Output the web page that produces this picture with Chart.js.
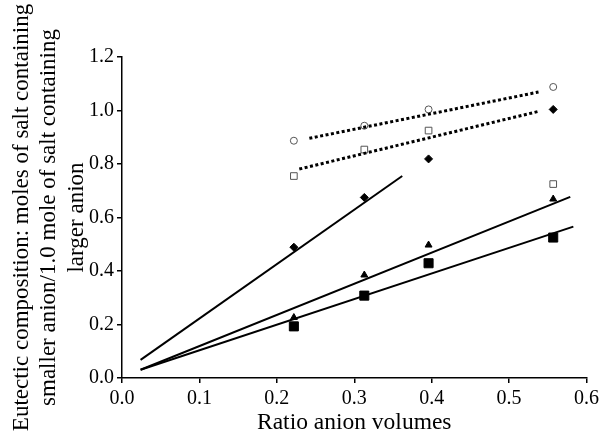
<!DOCTYPE html>
<html>
<head>
<meta charset="utf-8">
<script src="https://cdn.jsdelivr.net/npm/chart.js@4"></script>
<style>
  body { margin: 0; background: #fff; }
  #wrap { width: 603px; height: 447px; }
</style>
</head>
<body>
<div id="wrap"><canvas id="chart"></canvas></div>
<script>
// Data
var ratios = [0.222, 0.313, 0.396, 0.557];
var openCircles = [0.887, 0.943, 1.004, 1.088];
var openSquares = [0.755, 0.854, 0.925, 0.725];
var diamonds = [0.489, 0.675, 0.819, 1.004];
var triangles = [0.226, 0.385, 0.497, 0.669];
var filledSquares = [0.193, 0.308, 0.429, 0.525];

// Trend line end points [x, y]
var circleTrend = [[0.242, 0.896], [0.538, 1.069]];
var squareTrend = [[0.229, 0.781], [0.537, 0.996]];
var diamondTrend = [[0.024, 0.068], [0.362, 0.755]];
var triangleTrend = [[0.024, 0.031], [0.579, 0.677]];
var filledSquareTrend = [[0.024, 0.031], [0.583, 0.566]];

var xTicks = [0, 0.1, 0.2, 0.3, 0.4, 0.5, 0.6];
var yTicks = [0, 0.2, 0.4, 0.6, 0.8, 1.0, 1.2];

var toPoints = function (ys) {
  return ys.map(function (y, i) { return { x: ratios[i], y: y }; });
};
var toLine = function (pairs) {
  return pairs.map(function (p) { return { x: p[0], y: p[1] }; });
};

var markerSet = function (ys, style, radius, fill) {
  return {
    type: 'scatter',
    data: toPoints(ys),
    pointStyle: style,
    pointRadius: radius,
    pointBackgroundColor: fill,
    pointBorderColor: fill === '#fff' ? '#555' : '#000',
    pointBorderWidth: 1,
    showLine: false
  };
};

var lineSet = function (pairs, dashed) {
  return {
    type: 'line',
    data: toLine(pairs),
    borderColor: '#000',
    borderWidth: dashed ? 3 : 2,
    borderDash: dashed ? [3, 2.5] : [],
    pointRadius: 0,
    fill: false
  };
};

var serif = "'Liberation Serif', 'DejaVu Serif', serif";

new Chart(document.getElementById('chart'), {
  type: 'scatter',
  data: {
    datasets: [
      lineSet(circleTrend, true),
      lineSet(squareTrend, true),
      lineSet(diamondTrend, false),
      lineSet(triangleTrend, false),
      lineSet(filledSquareTrend, false),
      markerSet(openCircles, 'circle', 3.5, '#fff'),
      markerSet(openSquares, 'rect', 4.7, '#fff'),
      markerSet(diamonds, 'rectRot', 4, '#000'),
      markerSet(triangles, 'triangle', 4, '#000'),
      markerSet(filledSquares, 'rect', 6.4, '#000')
    ]
  },
  options: {
    responsive: true,
    maintainAspectRatio: false,
    animation: false,
    layout: { padding: { top: 57, right: 16, bottom: 0, left: 0 } },
    plugins: { legend: { display: false }, tooltip: { enabled: false } },
    scales: {
      x: {
        type: 'linear',
        min: 0,
        max: 0.6,
        afterBuildTicks: function (axis) { axis.ticks = xTicks.map(function (v) { return { value: v }; }); },
        afterFit: function (axis) { axis.height = 69; },
        ticks: { color: '#000', font: { family: serif, size: 20 }, padding: 4, maxRotation: 0,
          callback: function (v) { return v.toFixed(1); } },
        grid: { display: true, drawOnChartArea: false, drawTicks: true, tickLength: 5, color: '#000', lineWidth: 1.5 },
        border: { color: '#000', width: 1.5 },
        title: { display: true, text: 'Ratio anion volumes', color: '#000', font: { family: serif, size: 23.5 }, padding: { top: 4, bottom: 10 } }
      },
      y: {
        type: 'linear',
        min: 0,
        max: 1.2,
        afterBuildTicks: function (axis) { axis.ticks = yTicks.map(function (v) { return { value: v }; }); },
        afterFit: function (axis) { axis.width = 122; },
        ticks: { color: '#000', font: { family: serif, size: 20 }, padding: 3,
          callback: function (v) { return v.toFixed(1); } },
        grid: { display: true, drawOnChartArea: false, drawTicks: true, tickLength: 5, color: '#000', lineWidth: 1.5 },
        border: { color: '#000', width: 1.5 },
        title: {
          display: true,
          text: ['Eutectic composition: moles of salt containing', 'smaller anion/1.0 mole of salt containing', 'larger anion'],
          color: '#000',
          font: { family: serif, size: 23, lineHeight: 1.2 },
          padding: { top: 8, bottom: 4 }
        }
      }
    }
  }
});
</script>
</body>
</html>
